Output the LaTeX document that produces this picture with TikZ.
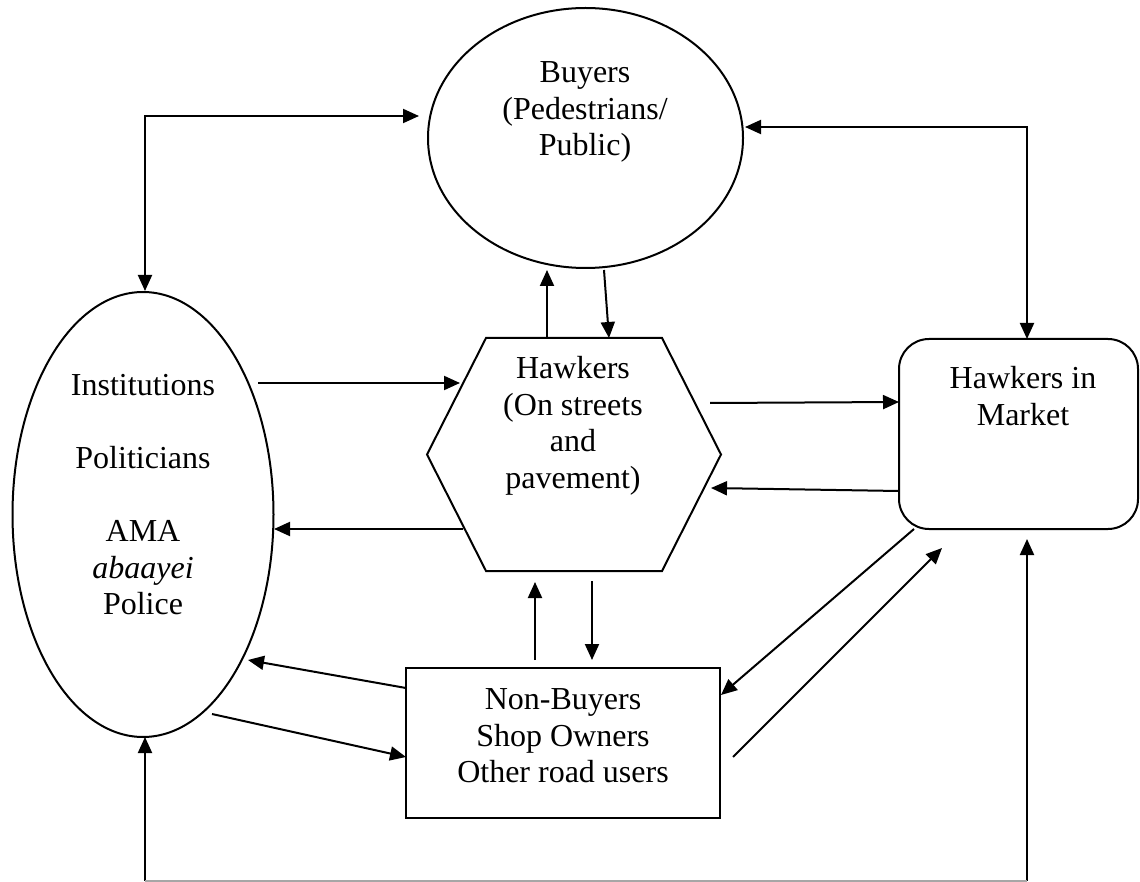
\documentclass[tikz,border=0pt]{standalone}
\usepackage{fontspec}
\setmainfont{Liberation Serif}
\usetikzlibrary{shapes.geometric,arrows.meta}
\begin{document}
\begin{tikzpicture}[x=1pt,y=-1pt, line width=2pt,
  lbl/.style={font=\fontsize{32}{36.5}\selectfont, align=center, inner sep=0pt},
  shp/.style={draw, inner sep=0pt},
  arr/.style={-{Triangle[length=16pt,width=14pt]}},
  darr/.style={{Triangle[length=16pt,width=14pt]}-{Triangle[length=16pt,width=14pt]}}]
\useasboundingbox (0,0) rectangle (1140,882);
\fill[white] (0,0) rectangle (1140,882);

% shapes
\node[shp, ellipse, minimum width=315pt, minimum height=260pt] (buyers) at (585.5,138) {};
\node[lbl] (buyersT) at (585,112) {Buyers\\(Pedestrians/\\Public)};

\node[shp, ellipse, minimum width=261pt, minimum height=445pt] (inst) at (143,514.5) {};
\node[lbl] (instT) at (143,495) {Institutions\\[36.5pt]Politicians\\[36.5pt]AMA\\\textit{abaayei}\\Police};

\node[inner sep=0pt, minimum width=292pt, minimum height=231pt] (hawk) at (574,454.5) {};
\draw ([xshift=59pt]hawk.north west) -- ([xshift=-59pt]hawk.north east) -- (hawk.east)
  -- ([xshift=-59pt]hawk.south east) -- ([xshift=59pt]hawk.south west) -- (hawk.west) -- cycle;
\node[lbl] (hawkT) at (573,426) {Hawkers\\(On streets\\and\\pavement)};

\node[shp, minimum width=314pt, minimum height=150pt] (nb) at (563,743) {};
\node[lbl] (nbT) at (563,736) {Non-Buyers\\Shop Owners\\Other road users};

\node[shp, rounded corners=30pt, minimum width=239pt, minimum height=190pt] (mkt) at (1018.5,434) {};
\node[lbl] (mktT) at (1023,396) {Hawkers in\\Market};

% connector end points
\coordinate (bL) at (419,116);
\coordinate (iT) at (145,291);
\coordinate (bR) at (745,127);
\coordinate (mT) at (1027,339);
\coordinate (hUp0) at (547,339);
\coordinate (bUp1) at (547,270);
\coordinate (bDn0) at (604,270);
\coordinate (hDn1) at (609,338);
\coordinate (iA0) at (258,383);
\coordinate (hA1) at (460,383);
\coordinate (hB0) at (463,529);
\coordinate (iB1) at (274,529);
\coordinate (hC0) at (710,403);
\coordinate (mC1) at (899,402);
\coordinate (mD0) at (899,491);
\coordinate (hD1) at (711,488);
\coordinate (nbU0) at (535,660);
\coordinate (hU1) at (535,582);
\coordinate (hV0) at (592,581);
\coordinate (nbV1) at (592,660);
\coordinate (nbE0) at (406,688);
\coordinate (iE1) at (248,660);
\coordinate (iF0) at (212,714);
\coordinate (nbF1) at (406,757);
\coordinate (mG0) at (914,529);
\coordinate (nbG1) at (721,695);
\coordinate (nbH0) at (733,757);
\coordinate (mH1) at (942,548);
\coordinate (botL) at (145,881);
\coordinate (iBot) at (145,737);
\coordinate (botR) at (1027,881);
\coordinate (mBot) at (1027,539);

% connectors
\draw[darr] (bL) -| (iT);
\draw[darr] (bR) -| (mT);
\draw[arr] (hUp0) -- (bUp1);
\draw[arr] (bDn0) -- (hDn1);
\draw[arr] (iA0) -- (hA1);
\draw[arr] (hB0) -- (iB1);
\draw[arr] (hC0) -- (mC1);
\draw[arr] (mD0) -- (hD1);
\draw[arr] (nbU0) -- (hU1);
\draw[arr] (hV0) -- (nbV1);
\draw[arr] (nbE0) -- (iE1);
\draw[arr] (iF0) -- (nbF1);
\draw[arr] (mG0) -- (nbG1);
\draw[arr] (nbH0) -- (mH1);
\draw[arr] (botL) -- (iBot);
\draw[arr] (botR) -- (mBot);
\draw[black!35] (botL) -- (botR);
\end{tikzpicture}
\end{document}
